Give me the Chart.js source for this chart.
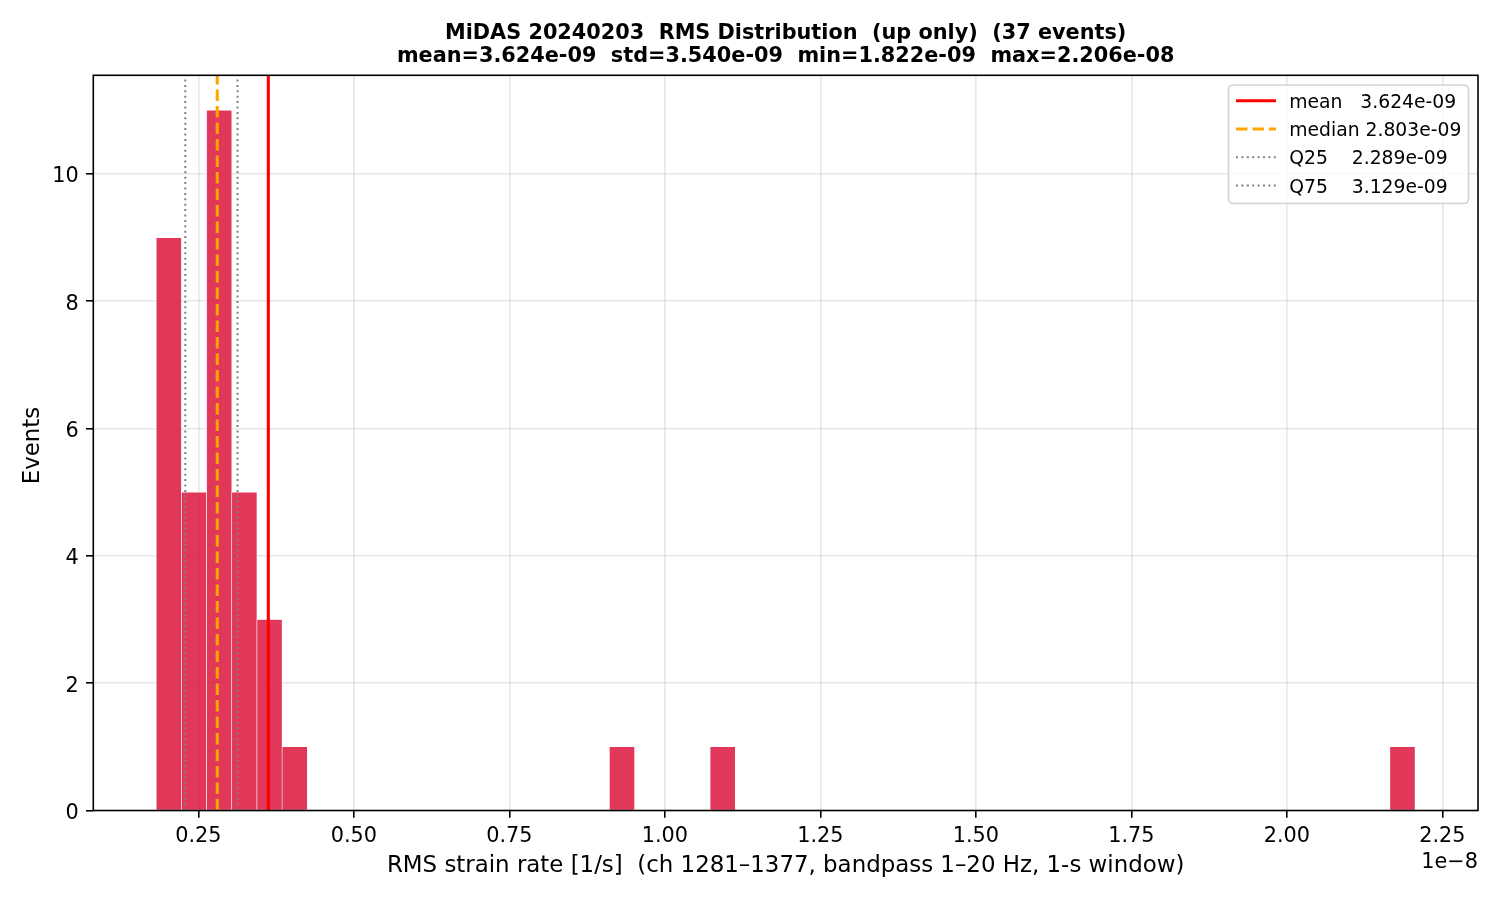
<!DOCTYPE html>
<html>
<head>
<meta charset="utf-8">
<script src="https://cdn.jsdelivr.net/npm/chart.js@4.4.1/dist/chart.umd.min.js"></script>
<style>
  html, body { margin: 0; padding: 0; background: #ffffff; }
  #wrap { width: 1500px; height: 900px; position: relative; }
</style>
</head>
<body>
<div id="wrap"><canvas id="c"></canvas></div>
<script>
// ---------------- data ----------------
const titleLines = [
  'MiDAS 20240203  RMS Distribution  (up only)  (37 events)',
  'mean=3.624e-09  std=3.540e-09  min=1.822e-09  max=2.206e-08'
];
const xAxisLabel = 'RMS strain rate [1/s]  (ch 1281\u20131377, bandpass 1\u201320 Hz, 1-s window)';
const yAxisLabel = 'Events';
const xOffsetLabel = '1e\u22128';
const X_UNIT = 1e-8;

const rmsMin = 1.822e-9;
const rmsMax = 2.206e-8;
const nBins = 50;
// counts per bin (50 equal bins from min to max)
const binCounts = [
  9, 5, 11, 5, 3, 1, 0, 0, 0, 0,
  0, 0, 0, 0, 0, 0, 0, 0, 1, 0,
  0, 0, 1, 0, 0, 0, 0, 0, 0, 0,
  0, 0, 0, 0, 0, 0, 0, 0, 0, 0,
  0, 0, 0, 0, 0, 0, 0, 0, 0, 1
];

const statNames   = ['mean', 'median', 'Q25', 'Q75'];
const statValues  = [3.624e-9, 2.803e-9, 2.289e-9, 3.129e-9];
const statLegend  = ['mean   3.624e-09', 'median 2.803e-09', 'Q25    2.289e-09', 'Q75    3.129e-09'];

const xTickValues = [0.25, 0.50, 0.75, 1.00, 1.25, 1.50, 1.75, 2.00, 2.25];
const yTickValues = [0, 2, 4, 6, 8, 10];
const xLimits = [0.08101, 2.30719];
const yLimits = [0, 11.55];

// ---------------- styles ----------------
const FONT = "'DejaVu Sans', 'Liberation Sans', sans-serif";
const statStyles = [
  { color: '#ff0000', width: 3.1, dash: [] },
  { color: '#ffa500', width: 3.1, dash: [11.5, 5] },
  { color: '#808080', width: 2.0, dash: [2.0, 3.4] },
  { color: '#808080', width: 2.0, dash: [2.0, 3.4] }
];

const binWidth = (rmsMax - rmsMin) / nBins;
const barData = binCounts.map((c, i) => ({ x: (rmsMin + (i + 0.5) * binWidth) / X_UNIT, y: c }));

const datasets = [{
  type: 'bar',
  label: 'counts',
  data: barData,
  backgroundColor: 'rgba(220,20,60,0.85)',
  borderColor: '#ffffff',
  borderWidth: 0.6,
  barPercentage: 1.0,
  categoryPercentage: 1.0,
  order: 10
}];
statValues.forEach((v, i) => {
  datasets.push({
    type: 'line',
    label: statNames[i],
    data: [{ x: v / X_UNIT, y: yLimits[0] }, { x: v / X_UNIT, y: yLimits[1] }],
    borderColor: statStyles[i].color,
    borderWidth: statStyles[i].width,
    borderDash: statStyles[i].dash,
    borderCapStyle: 'butt',
    pointRadius: 0,
    fill: false,
    tension: 0,
    order: 1
  });
});

const PLOT = { left: 93.3, right: 1478, top: 75.3, bottom: 810.5 };

const decorPlugin = {
  id: 'decor',
  afterDatasetsDraw(chart) {
    const ctx = chart.ctx;
    const a = chart.chartArea;
    ctx.save();
    // frame (spines)
    ctx.strokeStyle = '#000000';
    ctx.lineWidth = 1.6;
    ctx.strokeRect(a.left, a.top, a.right - a.left, a.bottom - a.top);

    // legend
    const lx = 1228.5, ly = 85, lw = 240, lh = 118.5, r = 5;
    ctx.beginPath();
    ctx.moveTo(lx + r, ly);
    ctx.lineTo(lx + lw - r, ly);
    ctx.quadraticCurveTo(lx + lw, ly, lx + lw, ly + r);
    ctx.lineTo(lx + lw, ly + lh - r);
    ctx.quadraticCurveTo(lx + lw, ly + lh, lx + lw - r, ly + lh);
    ctx.lineTo(lx + r, ly + lh);
    ctx.quadraticCurveTo(lx, ly + lh, lx, ly + lh - r);
    ctx.lineTo(lx, ly + r);
    ctx.quadraticCurveTo(lx, ly, lx + r, ly);
    ctx.closePath();
    ctx.fillStyle = 'rgba(255,255,255,0.8)';
    ctx.fill();
    ctx.strokeStyle = '#d3d3d3';
    ctx.lineWidth = 1.6;
    ctx.stroke();

    ctx.font = '18.75px ' + FONT;
    ctx.textAlign = 'left';
    ctx.textBaseline = 'alphabetic';
    statLegend.forEach((t, i) => {
      const base = 108 + i * 28.2;
      const hy = base - 7.2;
      const st = statStyles[i];
      ctx.beginPath();
      ctx.setLineDash(st.dash);
      ctx.lineDashOffset = 0;
      ctx.lineCap = 'butt';
      ctx.strokeStyle = st.color;
      ctx.lineWidth = st.width;
      ctx.moveTo(1236, hy);
      ctx.lineTo(1276, hy);
      ctx.stroke();
      ctx.setLineDash([]);
      ctx.fillStyle = '#000000';
      ctx.fillText(t, 1289.3, base);
    });

    // title
    const cx = (a.left + a.right) / 2;
    ctx.font = 'bold 20.8px ' + FONT;
    ctx.textAlign = 'center';
    ctx.textBaseline = 'alphabetic';
    ctx.fillStyle = '#000000';
    ctx.fillText(titleLines[0], cx, 38.7);
    ctx.fillText(titleLines[1], cx, 62.2);

    // y-axis label
    ctx.save();
    ctx.translate(33.3, 445.5);
    ctx.rotate(-Math.PI / 2);
    ctx.font = '22.9px ' + FONT;
    ctx.textAlign = 'center';
    ctx.textBaseline = 'middle';
    ctx.fillText(yAxisLabel, 0, 0);
    ctx.restore();

    // offset text
    ctx.font = '20.8px ' + FONT;
    ctx.textAlign = 'right';
    ctx.textBaseline = 'alphabetic';
    ctx.fillText(xOffsetLabel, a.right, 868);
    ctx.restore();
  }
};

new Chart(document.getElementById('c'), {
  data: { datasets },
  options: {
    responsive: true,
    maintainAspectRatio: false,
    animation: false,
    events: [],
    layout: { padding: { left: 0, right: 1500 - PLOT.right, top: PLOT.top, bottom: 0 } },
    plugins: {
      legend: { display: false },
      title: { display: false },
      tooltip: { enabled: false }
    },
    scales: {
      x: {
        type: 'linear',
        position: 'bottom',
        min: xLimits[0],
        max: xLimits[1],
        offset: false,
        afterFit(scale) { scale.height = 900 - PLOT.bottom; },
        afterBuildTicks(scale) { scale.ticks = xTickValues.map(v => ({ value: v })); },
        grid: {
          offset: false,
          color: 'rgba(176,176,176,0.3)',
          lineWidth: 1.6,
          drawTicks: true,
          tickLength: 7.3,
          tickColor: '#000000',
          tickWidth: 1.6
        },
        border: { display: false },
        ticks: {
          autoSkip: false,
          maxRotation: 0,
          minRotation: 0,
          padding: 6,
          color: '#000000',
          font: { family: FONT, size: 20.8 },
          callback: (v) => Number(v).toFixed(2)
        },
        title: {
          display: true,
          text: xAxisLabel,
          color: '#000000',
          font: { family: FONT, size: 22.9 },
          padding: { top: 0, bottom: 20.3 }
        }
      },
      y: {
        type: 'linear',
        position: 'left',
        min: yLimits[0],
        max: yLimits[1],
        afterFit(scale) { scale.width = PLOT.left; },
        afterBuildTicks(scale) { scale.ticks = yTickValues.map(v => ({ value: v })); },
        grid: {
          color: 'rgba(176,176,176,0.3)',
          lineWidth: 1.6,
          drawTicks: true,
          tickLength: 7.3,
          tickColor: '#000000',
          tickWidth: 1.6
        },
        border: { display: false },
        ticks: {
          padding: 7.3,
          labelOffset: 3,
          color: '#000000',
          font: { family: FONT, size: 20.8 },
          callback: (v) => String(v)
        },
        title: { display: false }
      }
    }
  },
  plugins: [decorPlugin]
});
</script>
</body>
</html>
